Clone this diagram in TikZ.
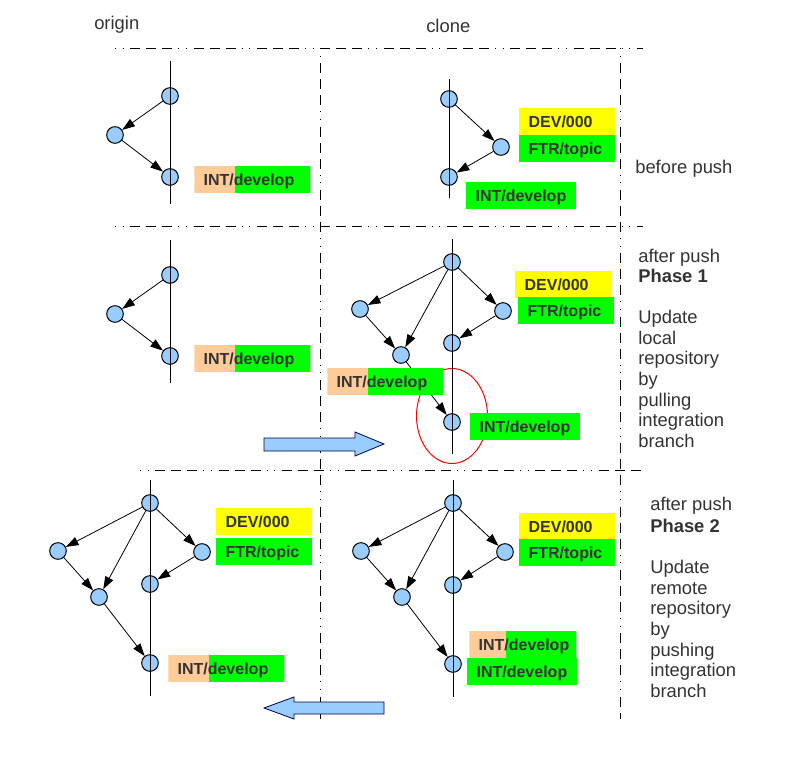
\documentclass[tikz,border=0pt]{standalone}
\usepackage{fontspec}
\setmainfont{Liberation Sans}
\usetikzlibrary{arrows.meta,shapes.geometric}
\definecolor{nodeblue}{RGB}{153,204,255}
\definecolor{lorange}{RGB}{255,204,153}
\definecolor{lgreen}{RGB}{0,255,0}
\definecolor{lyellow}{RGB}{255,255,0}
\definecolor{txt}{RGB}{51,51,51}
\begin{document}
\begin{tikzpicture}[x=0.75pt,y=-0.75pt,
  commit/.style={circle,draw=black,fill=nodeblue,minimum size=12.5pt,inner sep=0pt,line width=0.75pt},
  edge/.style={draw=black,line width=0.6pt,-{Triangle[length=9.5pt,width=6.5pt]}},
  branchline/.style={draw=black,line width=0.75pt},
  sepline/.style={draw=black,line width=0.75pt,dash pattern=on 0.75pt off 5pt on 0.75pt off 5pt on 7.5pt off 4.5pt on 7.5pt off 4.5pt on 7.5pt off 4.5pt},
  tag/.style={anchor=north west,inner xsep=7pt,inner ysep=0pt,minimum height=20pt,text width=#1,text depth=0pt,align=left,font=\bfseries\fontsize{12}{14}\selectfont,text=txt},
  greentag/.style={tag=#1,fill=lgreen},
  yellowtag/.style={tag=#1,fill=lyellow},
  splittag/.style 2 args={tag=#1,path picture={%
    \fill[lorange] ([xshift=-2pt,yshift=-2pt]path picture bounding box.south west) rectangle ([xshift=#2,yshift=2pt]path picture bounding box.north west);
    \fill[lgreen] ([xshift=#2,yshift=-2pt]path picture bounding box.south west) rectangle ([xshift=2pt,yshift=2pt]path picture bounding box.north east);}},
  txtline/.style={anchor=base west,inner sep=0pt,font=\fontsize{13.8}{15.5}\selectfont,text=txt},
  bigarrow/.style={fill=nodeblue,draw=black!70!blue,line width=0.6pt,line join=miter}
]
\useasboundingbox (0,0) rectangle (804,757);

% headings
\node[txtline] (hOrigin) at (94,29) {origin};
\node[txtline] (hClone) at (426,32) {clone};

% separators
\coordinate (s1a) at (115,48); \coordinate (s1b) at (643,48);
\coordinate (s2a) at (115,226); \coordinate (s2b) at (643,226);
\coordinate (s3a) at (140,470); \coordinate (s3b) at (643,470);
\coordinate (v1a) at (320,48); \coordinate (v1b) at (320,719);
\coordinate (v2a) at (620,48); \coordinate (v2b) at (620,719);
\draw[sepline] (s1a) -- (s1b);
\draw[sepline] (s2a) -- (s2b);
\draw[sepline] (s3a) -- (s3b);
\draw[sepline] (v1a) -- (v1b);
\draw[sepline] (v2a) -- (v2b);

% ===== Panel 1 origin
\node[commit] (a1) at (170,96) {};
\node[commit] (a2) at (115,135) {};
\node[commit] (a3) at (170,177) {};
\coordinate (aT) at (170,61); \coordinate (aB) at (170,204);
\draw[branchline] (aT) -- (aB);
\draw[edge] (a1) -- (a2);
\draw[edge] (a2) -- (a3);
\node[splittag={73pt}{30.75pt}] (aL) at (194,166) {INT/develop};

% ===== Panel 1 clone
\node[commit] (b1) at (449,99) {};
\node[commit] (b2) at (501,147) {};
\node[commit] (b3) at (449,177) {};
\coordinate (bT) at (449,79); \coordinate (bB) at (449,198);
\draw[branchline] (bT) -- (bB);
\draw[edge] (b1) -- (b2);
\draw[edge] (b2) -- (b3);
\node[yellowtag=58pt] (bD) at (519,108) {DEV/000};
\node[greentag=58pt] (bF) at (519,135) {FTR/topic};
\node[greentag=68.5pt] (bI) at (466,182) {INT/develop};
\node[txtline] (t1) at (635,173) {before push};

% ===== Panel 2 origin
\node[commit] (c1) at (170,275) {};
\node[commit] (c2) at (115,314) {};
\node[commit] (c3) at (170,356) {};
\coordinate (cT) at (170,240); \coordinate (cB) at (170,383);
\draw[branchline] (cT) -- (cB);
\draw[edge] (c1) -- (c2);
\draw[edge] (c2) -- (c3);
\node[splittag={73pt}{30.75pt}] (cL) at (194,345) {INT/develop};

% ===== Panel 2 clone
\node[draw=red,line width=0.75pt,ellipse,minimum width=53.25pt,minimum height=71.25pt,inner sep=0pt] (ring) at (452,416) {};
\node[commit] (d1) at (452,262) {};
\node[commit] (d2) at (360,309) {};
\node[commit] (d3) at (503,311) {};
\node[commit] (d4) at (452,343) {};
\node[commit] (d5) at (401,355) {};
\node[commit] (d6) at (452,422) {};
\coordinate (dT) at (452,239); \coordinate (dB) at (452,454);
\draw[branchline] (dT) -- (dB);
\draw[edge] (d1) -- (d2);
\draw[edge] (d1) -- (d5);
\draw[edge] (d1) -- (d3);
\draw[edge] (d2) -- (d5);
\draw[edge] (d3) -- (d4);
\draw[edge] (d5) -- (d6);
\node[yellowtag=58pt] (dD) at (515,271) {DEV/000};
\node[greentag=58pt] (dF) at (518,297) {FTR/topic};
\node[splittag={73pt}{30.75pt}] (dL) at (327,368) {INT/develop};
\node[greentag=68.5pt] (dI) at (470,413) {INT/develop};

\draw[bigarrow] (264,438) -- (355,438) -- (355,432) -- (384,444) -- (355,456) -- (355,451) -- (264,451) -- cycle;

\node[txtline] (p1a) at (638,262) {after push};
\node[txtline] (p1b) at (638,282) {\bfseries Phase 1};
\node[txtline] (p1c) at (638,323) {Update};
\node[txtline] (p1d) at (638,344) {local};
\node[txtline] (p1e) at (638,364) {repository};
\node[txtline] (p1f) at (638,385) {by};
\node[txtline] (p1g) at (638,406) {pulling};
\node[txtline] (p1h) at (638,426) {integration};
\node[txtline] (p1i) at (638,447) {branch};

% ===== Panel 3 origin
\node[commit] (e1) at (150,503) {};
\node[commit] (e2) at (58,551) {};
\node[commit] (e3) at (202,552) {};
\node[commit] (e4) at (150,584) {};
\node[commit] (e5) at (99,597) {};
\node[commit] (e6) at (150,663) {};
\coordinate (eT) at (150,480); \coordinate (eB) at (150,696);
\draw[branchline] (eT) -- (eB);
\draw[edge] (e1) -- (e2);
\draw[edge] (e1) -- (e5);
\draw[edge] (e1) -- (e3);
\draw[edge] (e2) -- (e5);
\draw[edge] (e3) -- (e4);
\draw[edge] (e5) -- (e6);
\node[yellowtag=58pt] (eD) at (216,508) {DEV/000};
\node[greentag=58pt] (eF) at (216,538) {FTR/topic};
\node[splittag={73pt}{30.75pt}] (eL) at (168,655) {INT/develop};

% ===== Panel 3 clone
\node[commit] (f1) at (453,503) {};
\node[commit] (f2) at (361,551) {};
\node[commit] (f3) at (505,552) {};
\node[commit] (f4) at (453,585) {};
\node[commit] (f5) at (402,597) {};
\node[commit] (f6) at (453,664) {};
\coordinate (fT) at (453,480); \coordinate (fB) at (453,697);
\draw[branchline] (fT) -- (fB);
\draw[edge] (f1) -- (f2);
\draw[edge] (f1) -- (f5);
\draw[edge] (f1) -- (f3);
\draw[edge] (f2) -- (f5);
\draw[edge] (f3) -- (f4);
\draw[edge] (f5) -- (f6);
\node[yellowtag=58pt] (fD) at (519,513) {DEV/000};
\node[greentag=58pt] (fF) at (519,539) {FTR/topic};
\node[splittag={66.25pt}{27.75pt}] (fL) at (469,631) {INT/develop};
\node[greentag=68.5pt] (fI) at (467,658) {INT/develop};

\draw[bigarrow] (264,708) -- (294,697) -- (294,702) -- (384,702) -- (384,714) -- (294,714) -- (294,719) -- cycle;

\node[txtline] (p2a) at (650,510) {after push};
\node[txtline] (p2b) at (650,532) {\bfseries Phase 2};
\node[txtline] (p2c) at (650,573) {Update};
\node[txtline] (p2d) at (650,594) {remote};
\node[txtline] (p2e) at (650,614) {repository};
\node[txtline] (p2f) at (650,635) {by};
\node[txtline] (p2g) at (650,656) {pushing};
\node[txtline] (p2h) at (650,676) {integration};
\node[txtline] (p2i) at (650,697) {branch};
\end{tikzpicture}
\end{document}
